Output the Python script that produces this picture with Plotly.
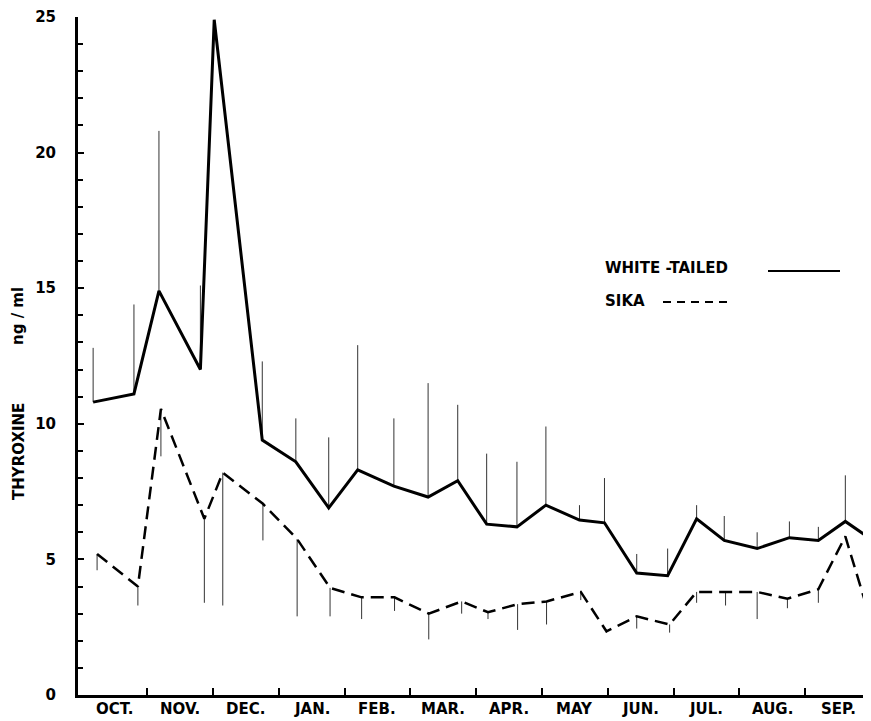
import plotly.graph_objects as go

# ---------------- data ----------------
months = ["OCT.", "NOV.", "DEC.", "JAN.", "FEB.", "MAR.", "APR.", "MAY",
          "JUN.", "JUL.", "AUG.", "SEP."]
month_centers = [i + 0.5 for i in range(12)]
month_bounds = list(range(1, 12))

# sampling position in months since 1 October
wt_x = [0.18, 0.80, 1.18, 1.81, 2.02, 2.75, 3.26, 3.76, 4.20, 4.75, 5.27, 5.72, 6.16,
        6.62, 7.06, 7.57, 7.95, 8.44, 8.91, 9.35, 9.77, 10.27, 10.76, 11.20, 11.61, 11.97]
wt_y = [10.8, 11.1, 14.9, 12.0, 24.9, 9.4, 8.6, 6.9, 8.3, 7.7, 7.3, 7.9, 6.3,
        6.2, 7.0, 6.45, 6.35, 4.5, 4.4, 6.5, 5.7, 5.4, 5.8, 5.7, 6.4, 5.8]
wt_top = [12.8, 14.4, 20.8, 15.1, 24.9, 12.3, 10.2, 9.5, 12.9, 10.2, 11.5, 10.7, 8.9,
          8.6, 9.9, 7.0, 8.0, 5.2, 5.4, 7.0, 6.6, 6.0, 6.4, 6.2, 8.1, 6.8]

sika_x = [0.24, 0.86, 1.21, 1.87, 2.15, 2.76, 3.28, 3.78, 4.26, 4.76, 5.28, 5.78, 6.18,
          6.63, 7.07, 7.59, 7.98, 8.44, 8.94, 9.35, 9.79, 10.27, 10.73, 11.20, 11.61, 11.99]
sika_y = [5.2, 4.0, 10.55, 6.5, 8.2, 7.05, 5.75, 3.95, 3.6, 3.6, 3.0, 3.45, 3.05,
          3.35, 3.45, 3.8, 2.35, 2.9, 2.6, 3.8, 3.8, 3.8, 3.55, 3.9, 5.85, 2.8]
sika_bottom = [4.6, 3.3, 8.8, 3.4, 3.3, 5.7, 2.9, 2.9, 2.8, 3.1, 2.05, 3.0, 2.8,
               2.4, 2.6, 3.5, 2.3, 2.45, 2.3, 3.4, 3.3, 2.8, 3.2, 3.4, 5.85, 2.8]

y_ticks = [0, 5, 10, 15, 20, 25]

wt_err_up = [max(0.0, t - v) for t, v in zip(wt_top, wt_y)]
sika_err_down = [max(0.0, v - b) for v, b in zip(sika_y, sika_bottom)]

# ---------------- layout helpers ----------------
# the page body has an 8px margin, so the figure is shifted by OFF pixels
OFF = 8
PAGE_W, PAGE_H = 871, 721
W, H = PAGE_W - OFF, PAGE_H - OFF
# plot area in page pixels
P_LEFT, P_RIGHT, P_TOP, P_BOTTOM = 78, 871, 17, 695
ML, MR = P_LEFT - OFF, PAGE_W - P_RIGHT
MT, MB = P_TOP - OFF, PAGE_H - P_BOTTOM


def px(page_x):
    return (page_x - P_LEFT) / (P_RIGHT - P_LEFT)


def py(page_y):
    return (P_BOTTOM - page_y) / (P_BOTTOM - P_TOP)


FONT = "DejaVu Sans"

fig = go.Figure()

fig.add_trace(go.Scatter(
    x=wt_x, y=wt_y, mode="lines", name="WHITE-TAILED",
    line=dict(color="black", width=3),
    error_y=dict(type="data", symmetric=False, array=wt_err_up,
                 arrayminus=[0] * len(wt_y), width=0, thickness=1, color="#333333"),
    cliponaxis=False, showlegend=False,
))

fig.add_trace(go.Scatter(
    x=sika_x, y=sika_y, mode="lines", name="SIKA",
    line=dict(color="black", width=2.5, dash="13px,7px"),
    error_y=dict(type="data", symmetric=False, array=[0] * len(sika_y),
                 arrayminus=sika_err_down, width=0, thickness=1, color="#333333"),
    cliponaxis=False, showlegend=False,
))

fig.update_layout(
    width=W, height=H, autosize=False,
    margin=dict(l=ML, r=MR, t=MT, b=MB, pad=0, autoexpand=False),
    paper_bgcolor="white", plot_bgcolor="white",
    font=dict(family=FONT, color="black"),
    xaxis=dict(
        range=[-0.05, 12.0], showgrid=False, zeroline=False, automargin=False,
        showline=True, linecolor="black", linewidth=3,
        tickmode="array", tickvals=month_centers, ticktext=months,
        ticks="", showticklabels=False,
        minor=dict(tickvals=month_bounds, ticks="inside", ticklen=7,
                   tickwidth=2, tickcolor="black", showgrid=False),
    ),
    yaxis=dict(
        range=[0, 25], showgrid=False, zeroline=False, automargin=False,
        showline=True, linecolor="black", linewidth=3,
        tickmode="array", tickvals=y_ticks, ticktext=[str(v) for v in y_ticks],
        ticks="inside", ticklen=6, tickwidth=2, tickcolor="black",
        ticklabelstandoff=16, ticklabeloverflow="allow",
        tickfont=dict(family=FONT, size=15, weight="bold", color="black"),
        minor=dict(dtick=1, tick0=0, ticks="inside", ticklen=5, tickwidth=1.5,
                   tickcolor="black", showgrid=False),
    ),
)

# month labels under the axis
for xc, lab in zip(month_centers, months):
    fig.add_annotation(text=lab, x=xc, xref="x", y=py(709), yref="paper",
                       xanchor="center", yanchor="middle", showarrow=False,
                       font=dict(family=FONT, size=15, weight="bold", color="black"))

annots = [
    dict(text="THYROXINE", x=px(19), y=py(452), textangle=-90),
    dict(text="ng / ml", x=px(18), y=py(316), textangle=-90),
]
for a in annots:
    fig.add_annotation(xref="paper", yref="paper", showarrow=False,
                       xanchor="center", yanchor="middle",
                       font=dict(family=FONT, size=15, weight="bold", color="black"),
                       **a)

fig.add_annotation(text="WHITE -TAILED", xref="paper", yref="paper",
                   x=px(603), y=py(268), xanchor="left", yanchor="middle",
                   showarrow=False,
                   font=dict(family=FONT, size=15, weight="bold", color="black"))
fig.add_annotation(text="SIKA", xref="paper", yref="paper",
                   x=px(603), y=py(301), xanchor="left", yanchor="middle",
                   showarrow=False,
                   font=dict(family=FONT, size=15, weight="bold", color="black"))

fig.add_shape(type="line", xref="paper", yref="paper",
              x0=px(768), x1=px(840), y0=py(271), y1=py(271),
              line=dict(color="black", width=2))
fig.add_shape(type="line", xref="paper", yref="paper",
              x0=px(663), x1=px(730), y0=py(302), y1=py(302),
              line=dict(color="black", width=2, dash="8px,6px"))

fig.write_html("out.html")
